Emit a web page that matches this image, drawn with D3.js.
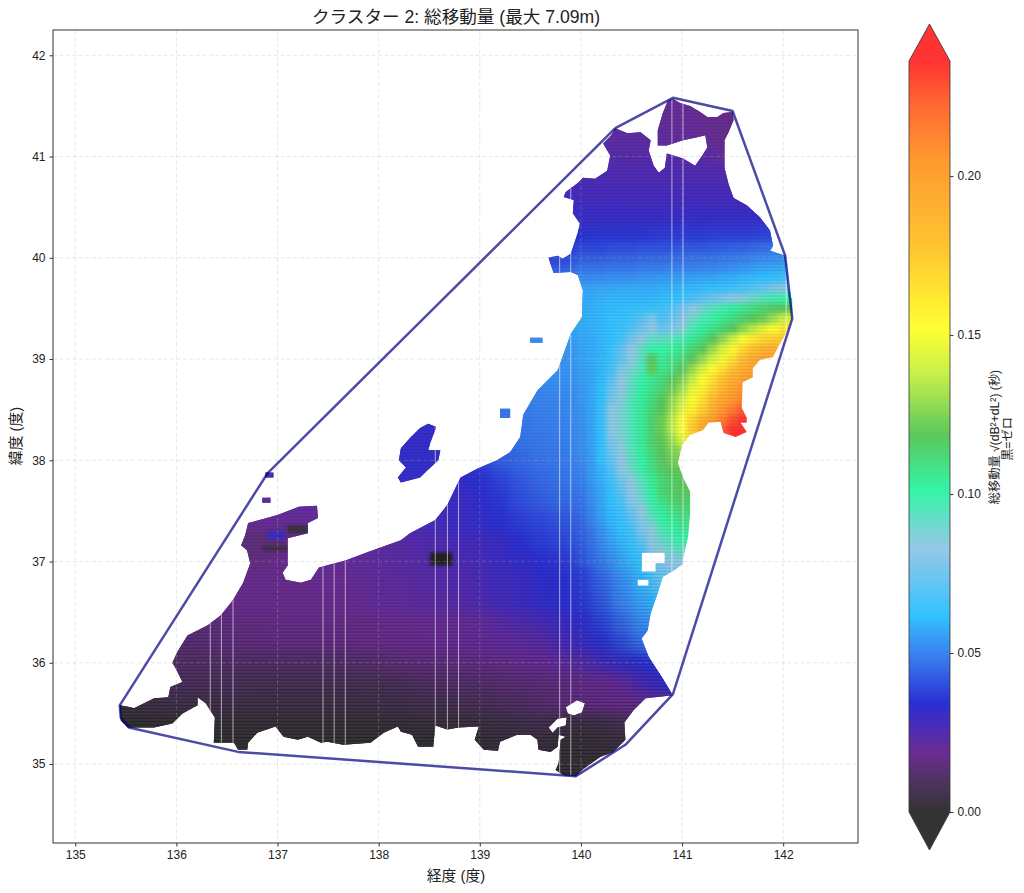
<!DOCTYPE html>
<html>
<head>
<meta charset="utf-8">
<script src="https://cdn.jsdelivr.net/npm/d3@7"></script>
<style>
body{margin:0;background:#fff;}
text{font-family:"Liberation Sans","Noto Sans CJK JP",sans-serif;fill:#222;}
</style>
</head>
<body>
<div id="chart"></div>
<script>
//tick labels
var lonTicks=[135,136,137,138,139,140,141,142];
var latTicks=[35,36,37,38,39,40,41,42];
var cbarTicks=[0,0.05,0.10,0.15,0.20];

//colour map
var cmapValues=[0,0.008,0.0186,0.027,0.0343,0.05,0.062,0.083,0.101,0.1185,0.138,0.152,0.18,0.205,0.222,0.2362];
var cmapColors=["#333333","#4a3358","#6b2d92","#4a2cb8","#2a2fd2","#3a84f0","#33c2ff","#96c8e6","#33f5a8","#5ac85c","#c8f04a","#ffff33","#ffc030","#ff9a30","#ff6a30","#ff3333"];

//total movement per 0.2 deg cell: lat, first lon, values in 1/1000 s
var coarseRows=[
[41.8,140.6,[20,20,20,20,18]],
[41.6,140.4,[20,20,20,20,19,18,18,17]],
[41.4,140.2,[21,21,21,20,20,19,18,16,15,15]],
[41.2,140.0,[22,22,22,22,21,21,20,17,15,15]],
[41.0,140.0,[24,24,24,24,24,24,23,21,19,19]],
[40.8,139.6,[26,26,26,26,26,26,26,26,26,26,25,25,25]],
[40.6,139.6,[28,28,28,28,28,28,28,28,28,28,28,28,28]],
[40.4,139.6,[31,31,31,31,31,31,31,31,31,31,31,32,32,33]],
[40.2,139.4,[35,35,35,35,36,36,36,37,37,37,38,38,39,40,41]],
[40.0,139.4,[38,38,39,41,42,42,43,43,44,45,46,47,48,50,51]],
[39.8,139.4,[45,45,47,50]],
[39.6,139.4,[50,52,54,57]],
[39.4,139.4,[52,54,56,58]],
[39.2,139.2,[50,50,52,54,56,57]],
[39.0,139.2,[50,50,52,53,54,56]],
[38.8,139.2,[48,50,52,53,53,55]],
[38.6,139.0,[48,48,49,50,51,52,54]],
[38.4,138.0,[32,32,32,32,38,44,47,48,49,50,53]],
[38.2,138.0,[32,32,32,32,36,40,44,47,48,49,52]],
[38.0,138.0,[32,32,32,32,34,38,43,45,47,48,51]],
[37.8,136.6,[24,25,24,22,24,26,28,30,32,32,32,32,34,38,42,45,47,49]],
[37.6,136.6,[21,21,22,22,22,24,26,28,30,30,30,30,33,36,40,43,45,47]],
[37.4,136.4,[19,19,19,20,20,20,21,22,25,27,28,28,30,32,34,37,39,41,44]],
[37.2,136.4,[15,15,14,14,19,20,21,21,22,23,25,26,28,29,31,34,37,39,42]],
[37.0,136.4,[18,17,16,18,19,20,20,21,22,23,24,25,26,28,30,32,34,36,39,48,56,63,78,85,85]],
[36.8,136.2,[18,18,18,18,18,18,19,19,20,21,22,23,24,25,27,29,30,33,34,37,44,52,60,72,80]],
[36.6,136.0,[16,17,17,18,18,18,18,18,18,19,21,21,22,23,24,26,28,30,32,34,36,42,50,56,62]],
[36.4,135.8,[14,14,15,15,16,16,17,17,17,17,17,18,18,19,19,20,21,23,25,27,30,33,38,45,52,56]],
[36.2,135.6,[12,12,13,13,14,15,15,16,16,16,16,17,17,18,18,19,19,20,21,22,23,27,30,35,40,47,50]],
[36.0,135.6,[11,11,11,11,11,11,11,11,11,11,11,12,13,14,15,15,16,16,17,18,20,21,24,28,31,34,36,36]],
[35.8,135.6,[8,8,9,9,9,9,8,8,8,8,8,8,8,9,10,11,12,12,13,14,15,16,17,18,21,27,32,33]],
[35.6,135.2,[3,3,5,5,6,6,6,6,5,5,5,5,5,5,6,6,7,7,8,9,10,11,13,15,16,17,18,18,20]],
[35.4,135.2,[0,0,0,1,1,2,2,2,2,2,2,2,2,2,2,2,3,3,3,4,5,6,7,5,4,5,8,10]],
[35.2,135.2,[0,0,0,0,0,0,0,1,1,1,1,1,1,1,1,1,1,1,1,2,3,3,3,2,2,3,4,4]],
[35.0,136.4,[0,0,1,1,1,1,1,1,1,1,1,1,1,2,2,2,2,2,2,2,2,3]],
[34.8,139.6,[1,1,1,1,1]]
];

//finer 0.1 deg cells where the field bends, lon 140.0 to 142.1
var fineLon0=140.0;
var fineLats=[40.1,40.0,39.9,39.8,39.7,39.6,39.5,39.4,39.3,39.2,39.1,39.0,38.9,38.8,38.7,38.6,38.5,38.4,38.3,38.2,38.1,38.0,37.9,37.8,37.7,37.6,37.5,37.4,37.3,37.2,37.1,37.0];
var fineRows=[
[39,39,39,40,40,40,41,41,41,41,42,42,42,43,43,44,44,45,46,47,47,47],
[43,43,43,44,44,44,45,45,45,46,46,47,47,47,48,48,49,50,51,52,52,52],
[47,47,47,48,48,48,49,49,49,50,50,50,51,51,52,53,54,55,56,57,58,58],
[52,52,52,53,53,53,54,54,55,55,56,56,57,57,58,59,60,61,62,63,64,64],
[56,56,57,57,58,58,58,58,59,59,60,60,61,62,63,65,67,70,73,77,80,80],
[58,58,59,60,60,60,60,60,61,62,64,67,71,75,78,82,86,90,94,97,100,102],
[58,59,60,61,62,62,63,64,66,69,75,83,89,94,98,102,106,110,113,116,118,120],
[58,59,60,62,63,65,70,78,68,72,80,90,96,100,105,110,114,118,122,130,140,145],
[58,59,60,62,64,68,76,82,74,78,86,96,102,108,113,118,128,136,145,152,160,162],
[57,58,60,62,66,76,84,92,92,94,97,104,110,118,128,140,152,160,168,172,175,175],
[56,58,60,64,72,83,92,100,100,103,106,112,118,130,142,154,168,180,188,190,190,190],
[56,58,60,64,72,84,94,118,104,108,112,118,130,142,150,165,180,192,196,196,196,196],
[55,57,60,66,78,88,96,120,106,110,118,130,142,152,165,180,190,198,200,200,200,200],
[55,57,61,70,83,92,100,105,110,118,125,138,152,165,178,190,200,204,204,204,204,204],
[54,57,62,74,84,93,102,107,113,122,132,147,158,172,186,198,205,208,208,208,208,208],
[54,57,62,76,85,95,103,110,118,128,140,152,165,182,195,205,212,215,215,215,215,215],
[53,57,63,82,88,96,104,112,118,130,146,158,172,190,205,215,225,230,230,230,230,230],
[53,57,63,82,88,96,104,114,122,135,152,170,188,202,215,228,235,236,236,236,236,236],
[52,56,63,82,88,95,104,114,122,136,152,175,195,210,225,236,238,238,238,238,238,238],
[52,56,62,78,86,95,104,114,120,130,145,165,190,210,225,236,238,238,238,238,238,238],
[52,56,62,75,85,94,103,112,118,125,130,130,130,130,130,130,130,130,130,130,130,130],
[51,55,62,72,83,92,101,110,118,123,125,125,125,125,125,125,125,125,125,125,125,125],
[50,55,60,68,82,90,99,108,115,119,120,120,120,120,120,120,120,120,120,120,120,120],
[49,54,59,65,76,84,94,104,112,116,118,118,118,118,118,118,118,118,118,118,118,118],
[48,53,58,63,72,83,92,103,112,116,118,118,118,118,118,118,118,118,118,118,118,118],
[47,52,57,62,68,80,88,100,108,113,116,115,115,115,115,115,115,115,115,115,115,115],
[46,51,56,61,65,75,83,96,103,108,112,110,110,110,110,110,110,110,110,110,110,110],
[45,50,55,60,63,70,80,90,100,104,108,106,106,106,106,106,106,106,106,106,106,106],
[44,48,53,58,62,66,78,84,95,100,104,104,104,104,104,104,104,104,104,104,104,104],
[43,47,52,56,60,64,72,82,90,95,100,100,100,100,100,100,100,100,100,100,100,100],
[42,46,50,54,58,62,66,80,85,90,92,92,92,92,92,92,92,92,92,92,92,92],
[41,45,48,52,56,60,63,72,78,82,85,85,85,85,85,85,85,85,85,85,85,85]
];

//small patches: lon0, lat0, lon1, lat1, value in 1/1000 s
var patchCells=[
[138.51,36.96,138.73,37.09,0],
[136.85,37.11,137.10,37.15,2],
[137.10,37.28,137.30,37.36,3],
[136.90,37.22,137.08,37.30,30]
];

//land outline, lon/lat
var mainland=[[140.91,41.57],[140.98,41.53],[141.08,41.50],[141.18,41.44],[141.25,41.39],[141.35,41.39],[141.41,41.43],[141.50,41.44],[141.51,41.36],[141.46,41.24],[141.42,41.16],[141.42,40.89],[141.46,40.73],[141.51,40.59],[141.64,40.52],[141.77,40.40],[141.87,40.27],[141.90,40.12],[141.87,40.07],[142.02,40.02],[142.04,39.88],[142.05,39.71],[142.09,39.58],[142.09,39.40],[142.04,39.28],[141.95,39.12],[141.90,39.02],[141.77,38.99],[141.70,38.91],[141.70,38.82],[141.60,38.77],[141.59,38.52],[141.64,38.42],[141.64,38.37],[141.58,38.37],[141.64,38.28],[141.53,38.23],[141.41,38.27],[141.38,38.38],[141.26,38.37],[141.21,38.30],[141.08,38.25],[141.00,38.15],[140.96,37.97],[141.01,37.83],[141.08,37.69],[141.08,37.48],[141.06,37.24],[141.01,37.04],[141.01,36.98],[140.93,36.92],[140.81,36.85],[140.76,36.69],[140.69,36.49],[140.66,36.32],[140.60,36.24],[140.67,36.06],[140.80,35.86],[140.91,35.68],[140.64,35.65],[140.52,35.53],[140.43,35.41],[140.44,35.24],[140.32,35.12],[140.19,35.07],[140.01,34.94],[139.95,34.88],[139.83,34.89],[139.75,34.94],[139.78,35.01],[139.80,35.24],[139.85,35.27],[139.78,35.29],[139.77,35.17],[139.70,35.12],[139.58,35.14],[139.57,35.24],[139.50,35.29],[139.37,35.29],[139.20,35.22],[139.18,35.13],[139.04,35.14],[138.95,35.24],[138.99,35.37],[138.79,35.36],[138.68,35.34],[138.56,35.38],[138.54,35.17],[138.39,35.17],[138.33,35.29],[138.22,35.32],[138.19,35.37],[138.05,35.31],[137.92,35.21],[137.65,35.19],[137.49,35.22],[137.43,35.21],[137.30,35.27],[137.20,35.24],[137.06,35.27],[136.98,35.37],[136.80,35.31],[136.71,35.21],[136.70,35.14],[136.61,35.14],[136.57,35.21],[136.37,35.21],[136.38,35.46],[136.29,35.60],[136.21,35.66],[136.21,35.58],[136.06,35.50],[135.96,35.40],[135.78,35.36],[135.52,35.36],[135.45,35.43],[135.44,35.58],[135.55,35.56],[135.58,35.55],[135.78,35.65],[135.92,35.66],[135.94,35.76],[136.06,35.81],[135.99,35.95],[135.96,36.00],[136.01,36.11],[136.11,36.27],[136.31,36.37],[136.44,36.47],[136.56,36.62],[136.66,36.79],[136.73,36.98],[136.70,37.11],[136.64,37.16],[136.68,37.26],[136.71,37.38],[137.00,37.46],[137.21,37.54],[137.39,37.55],[137.40,37.43],[137.30,37.38],[137.30,37.28],[137.10,37.23],[137.10,36.96],[137.05,36.89],[137.08,36.82],[137.23,36.79],[137.33,36.82],[137.41,36.94],[137.67,37.01],[137.99,37.13],[138.22,37.21],[138.31,37.28],[138.56,37.41],[138.68,37.56],[138.76,37.73],[138.81,37.83],[138.98,37.92],[139.17,38.00],[139.30,38.08],[139.40,38.23],[139.43,38.45],[139.57,38.69],[139.77,38.89],[139.80,38.97],[139.90,39.25],[140.01,39.41],[140.02,39.68],[139.97,39.83],[139.90,39.86],[139.73,39.85],[139.68,40.00],[139.77,40.02],[139.82,39.99],[139.90,40.04],[139.97,40.25],[139.99,40.34],[139.92,40.44],[139.93,40.57],[139.83,40.60],[139.85,40.65],[139.97,40.74],[140.02,40.79],[140.14,40.78],[140.26,40.86],[140.29,41.01],[140.22,41.13],[140.30,41.21],[140.34,41.28],[140.46,41.23],[140.59,41.24],[140.69,41.16],[140.67,41.06],[140.72,40.91],[140.77,40.84],[140.83,40.89],[140.85,41.03],[141.01,40.98],[141.13,40.91],[141.20,41.01],[141.25,41.09],[141.23,41.21],[141.15,41.19],[141.01,41.16],[140.85,41.11],[140.76,41.11],[140.76,41.26],[140.81,41.43],[140.86,41.55]];
var sado=[[138.49,38.36],[138.57,38.33],[138.51,38.17],[138.49,38.10],[138.61,38.10],[138.59,38.00],[138.48,37.90],[138.41,37.83],[138.22,37.78],[138.19,37.83],[138.27,37.93],[138.20,38.00],[138.22,38.12],[138.31,38.22],[138.41,38.32]];
var tobishima=[[139.50,39.21],[139.62,39.21],[139.62,39.16],[139.50,39.16]];
var awashima=[[139.20,38.51],[139.30,38.51],[139.30,38.42],[139.20,38.42]];
var hegura=[[136.88,37.88],[136.96,37.88],[136.96,37.83],[136.88,37.83]];
var nanatsu=[[136.85,37.63],[136.93,37.63],[136.93,37.58],[136.85,37.58]];
//gaps in the land
var gapA=[[140.60,37.09],[140.83,37.09],[140.83,36.98],[140.74,36.98],[140.74,36.90],[140.60,36.90]];
var gapB=[[140.56,36.82],[140.67,36.82],[140.67,36.76],[140.56,36.76]];
var gapC=[[139.85,35.56],[139.96,35.63],[140.04,35.60],[140.01,35.51],[139.93,35.48],[139.87,35.50]];
var gapD=[[139.68,35.36],[139.77,35.45],[139.86,35.46],[139.85,35.38],[139.77,35.36],[139.72,35.31]];

//cluster hull
var hull=[[140.34,41.28],[140.91,41.58],[141.50,41.45],[142.02,40.02],[142.09,39.40],[140.91,35.69],[140.44,35.19],[139.95,34.88],[136.61,35.12],[135.53,35.36],[135.45,35.46],[135.44,35.58],[136.90,37.87],[140.34,41.28]];

//missing columns show as pale vertical lines
var paleLons=[136.335,136.445,136.56,137.45,137.56,137.67,138.56,138.68,138.79,139.79,139.90,140.90,141.01,142.03];

var svgWidth=1024;
var svgHeight=893;

//plot area
var margin={top:30,right:166,bottom:50,left:53};
var width=svgWidth-margin.left-margin.right;
var height=svgHeight-margin.top-margin.bottom;

var xScale=d3.scaleLinear().domain([134.78,142.74]).range([0,width]);
var yScale=d3.scaleLinear().domain([34.22,42.25]).range([height,0]);
var colorScale=d3.scaleLinear().domain(cmapValues).range(cmapColors).clamp(true);

var svg=d3.select("#chart")
    .append("svg")
    .attr("width",svgWidth)
    .attr("height",svgHeight);

var defs=svg.append("defs");

function addBlur(id,dev){
    defs.append("filter")
        .attr("id",id)
        .attr("filterUnits","userSpaceOnUse")
        .attr("color-interpolation-filters","sRGB")
        .attr("x",-20).attr("y",-20)
        .attr("width",width+40).attr("height",height+40)
        .append("feGaussianBlur")
        .attr("stdDeviation",dev);
}
addBlur("blurCoarse",6);
addBlur("blurFine",2.6);
addBlur("blurPatch",1.4);

var ringPath=function(ring){
    return "M"+ring.map(d=>xScale(d[0])+","+yScale(d[1])).join("L")+"Z";
};
var landRings=[mainland,sado,tobishima,awashima,hegura,nanatsu,gapA,gapB,gapC,gapD];
defs.append("clipPath")
    .attr("id","landClip")
    .append("path")
    .attr("clip-rule","evenodd")
    .attr("d",landRings.map(ringPath).join(""));

var chartGroup=svg.append("g")
    .attr("transform",`translate(${margin.left},${margin.top})`);

var landGroup=chartGroup.append("g")
    .attr("clip-path","url(#landClip)");

//coarse cells, drawn plain and then blurred on top so edges never fade to white
function drawCoarse(parent){
    coarseRows.forEach(function(row){
        parent.selectAll(null)
            .data(row[2])
            .enter()
            .append("rect")
            .attr("x",(d,i)=>xScale(row[1]+i*0.2-0.1))
            .attr("y",yScale(row[0]+0.1))
            .attr("width",xScale(0.2)-xScale(0)+0.6)
            .attr("height",yScale(0)-yScale(0.2)+0.6)
            .attr("fill",d=>colorScale(d/1000));
    });
}
drawCoarse(landGroup.append("g"));
drawCoarse(landGroup.append("g").attr("filter","url(#blurCoarse)"));

var fineGroup=landGroup.append("g").attr("filter","url(#blurFine)");
fineRows.forEach(function(row,r){
    fineGroup.selectAll(null)
        .data(row)
        .enter()
        .append("rect")
        .attr("x",(d,i)=>xScale(fineLon0+i*0.1-0.05))
        .attr("y",yScale(fineLats[r]+0.05))
        .attr("width",xScale(0.1)-xScale(0)+0.6)
        .attr("height",yScale(0)-yScale(0.1)+0.6)
        .attr("fill",d=>colorScale(d/1000));
});

landGroup.append("g")
    .attr("filter","url(#blurPatch)")
    .selectAll("rect")
    .data(patchCells)
    .enter()
    .append("rect")
    .attr("x",d=>xScale(d[0]))
    .attr("y",d=>yScale(d[3]))
    .attr("width",d=>xScale(d[2])-xScale(d[0]))
    .attr("height",d=>yScale(d[1])-yScale(d[3]))
    .attr("fill",d=>d[4]===0?"#222222":colorScale(d[4]/1000));

//rows overlap a little in the source, that gives the thin dark stripes, stronger in the dark south
var stripeOpacity=d3.scaleLinear().domain([35,36.5,37.6]).range([0.36,0.15,0.07]).clamp(true);
landGroup.append("g")
    .selectAll("line")
    .data(d3.range(34.85,41.62,0.0316))
    .enter()
    .append("line")
    .attr("x1",0).attr("x2",width)
    .attr("y1",d=>yScale(d)).attr("y2",d=>yScale(d))
    .attr("stroke","#000")
    .attr("stroke-opacity",d=>stripeOpacity(d))
    .attr("stroke-width",1.2);

landGroup.append("g")
    .selectAll("line")
    .data(paleLons)
    .enter()
    .append("line")
    .attr("x1",d=>xScale(d)).attr("x2",d=>xScale(d))
    .attr("y1",0).attr("y2",height)
    .attr("stroke","#fff")
    .attr("stroke-opacity",0.6)
    .attr("stroke-width",1);

//grid
chartGroup.append("g")
    .selectAll("line")
    .data(lonTicks)
    .enter()
    .append("line")
    .attr("x1",d=>xScale(d)).attr("x2",d=>xScale(d))
    .attr("y1",0).attr("y2",height)
    .attr("stroke","#b0b0b0")
    .attr("stroke-opacity",0.3)
    .attr("stroke-dasharray","4,2.5");
chartGroup.append("g")
    .selectAll("line")
    .data(latTicks)
    .enter()
    .append("line")
    .attr("x1",0).attr("x2",width)
    .attr("y1",d=>yScale(d)).attr("y2",d=>yScale(d))
    .attr("stroke","#b0b0b0")
    .attr("stroke-opacity",0.3)
    .attr("stroke-dasharray","4,2.5");

//hull line
chartGroup.append("path")
    .attr("d",d3.line().x(d=>xScale(d[0])).y(d=>yScale(d[1]))(hull))
    .attr("fill","none")
    .attr("stroke","navy")
    .attr("stroke-opacity",0.7)
    .attr("stroke-width",2.5)
    .attr("stroke-linejoin","round");

//axes
var bottomAxis=d3.axisBottom(xScale).tickValues(lonTicks).tickFormat(d3.format("d")).tickSize(3.5).tickPadding(4);
var leftAxis=d3.axisLeft(yScale).tickValues(latTicks).tickFormat(d3.format("d")).tickSize(3.5).tickPadding(4);
var xAxis=chartGroup.append("g")
    .attr("transform",`translate(0,${height})`)
    .call(bottomAxis);
var yAxis=chartGroup.append("g")
    .call(leftAxis);
[xAxis,yAxis].forEach(function(a){
    a.selectAll("text").style("font-size","12px");
    a.selectAll("line").attr("stroke","#333");
    a.select(".domain").remove();
});
chartGroup.append("rect")
    .attr("width",width)
    .attr("height",height)
    .attr("fill","none")
    .attr("stroke","#333")
    .attr("stroke-width",1);

//titles
svg.append("text")
    .attr("x",456).attr("y",23)
    .attr("text-anchor","middle")
    .style("font-size","17.6px")
    .text("クラスター 2: 総移動量 (最大 7.09m)");
svg.append("text")
    .attr("x",456).attr("y",881)
    .attr("text-anchor","middle")
    .style("font-size","14.8px")
    .text("経度 (度)");
svg.append("text")
    .attr("transform","translate(21,436) rotate(-90)")
    .attr("text-anchor","middle")
    .style("font-size","14.8px")
    .text("緯度 (度)");

//colorbar
var cbarLeft=909;
var cbarWidth=41;
var cbarMax=0.2362;
var cbarScale=d3.scaleLinear().domain([0,cbarMax]).range([812,61]);
var cbarGroup=svg.append("g");
var grad=defs.append("linearGradient")
    .attr("id","cbarGrad")
    .attr("x1",0).attr("x2",0).attr("y1",1).attr("y2",0);
grad.selectAll("stop")
    .data(cmapValues)
    .enter()
    .append("stop")
    .attr("offset",d=>d/cbarMax)
    .attr("stop-color",(d,i)=>cmapColors[i]);
cbarGroup.append("rect")
    .attr("x",cbarLeft).attr("y",cbarScale(cbarMax))
    .attr("width",cbarWidth)
    .attr("height",cbarScale(0)-cbarScale(cbarMax))
    .attr("fill","url(#cbarGrad)");
var midX=cbarLeft+cbarWidth/2;
cbarGroup.append("path")
    .attr("d",`M${cbarLeft},${cbarScale(cbarMax)}L${midX},24L${cbarLeft+cbarWidth},${cbarScale(cbarMax)}Z`)
    .attr("fill",cmapColors[cmapColors.length-1]);
cbarGroup.append("path")
    .attr("d",`M${cbarLeft},${cbarScale(0)}L${midX},850L${cbarLeft+cbarWidth},${cbarScale(0)}Z`)
    .attr("fill",cmapColors[0]);
cbarGroup.append("path")
    .attr("d",`M${cbarLeft},${cbarScale(cbarMax)}L${midX},24L${cbarLeft+cbarWidth},${cbarScale(cbarMax)}L${cbarLeft+cbarWidth},${cbarScale(0)}L${midX},850L${cbarLeft},${cbarScale(0)}Z`)
    .attr("fill","none")
    .attr("stroke","#333")
    .attr("stroke-opacity",0.8)
    .attr("stroke-width",1);
var cbarAxis=d3.axisRight(cbarScale).tickValues(cbarTicks).tickFormat(d3.format(".2f")).tickSize(3.5).tickPadding(4);
var cbarAxisGroup=cbarGroup.append("g")
    .attr("transform",`translate(${cbarLeft+cbarWidth},0)`)
    .call(cbarAxis);
cbarAxisGroup.select(".domain").remove();
cbarAxisGroup.selectAll("text").style("font-size","12px");
cbarAxisGroup.selectAll("line").attr("stroke","#333");

svg.append("text")
    .attr("transform","translate(999,437) rotate(-90)")
    .attr("text-anchor","middle")
    .style("font-size","12.2px")
    .text("総移動量 √(dB²+dL²) (秒)");
svg.append("text")
    .attr("transform","translate(1012,439) rotate(-90)")
    .attr("text-anchor","middle")
    .style("font-size","12.2px")
    .text("黒=ゼロ");
</script>
</body>
</html>
